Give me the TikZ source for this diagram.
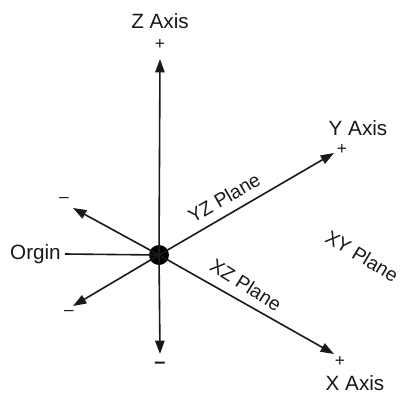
\documentclass[tikz,border=0pt]{standalone}
\usepackage{fontspec}
\setmainfont{Liberation Sans}
\usetikzlibrary{arrows.meta}
\begin{document}
\begin{tikzpicture}[x=0.75pt,y=-0.75pt,
  axis/.style={line width=1.2pt,draw=black!90,-{Triangle[length=10pt,width=7pt]}},
  lbl/.style={font=\fontsize{15.5}{16}\selectfont,text=black!90,inner sep=0pt},
  plane/.style={font=\fontsize{14.5}{16}\selectfont,text=black!90,inner sep=0pt},
  sgn/.style={font=\fontsize{13}{13}\selectfont,text=black!90,inner sep=0pt}]
\useasboundingbox (0,0) rectangle (400,396);
\fill[white] (0,0) rectangle (400,396);
% origin dot
\node[circle,fill=black,inner sep=0pt,minimum size=15pt] (O) at (159,255) {};
% axis end points
\coordinate (zp) at (160,59);
\coordinate (zm) at (160,354);
\coordinate (yp) at (334,153);
\coordinate (xp) at (334,354);
\coordinate (ul) at (73,208);
\coordinate (ll) at (73,306);
% axes
\draw[axis] (O.center) -- (zp);
\draw[axis] (O.center) -- (zm);
\draw[axis] (O.center) -- (yp);
\draw[axis] (O.center) -- (xp);
\draw[axis] (O.center) -- (ul);
\draw[axis] (O.center) -- (ll);
% origin label
\node[lbl,anchor=east] (orgin) at (61,254) {Orgin};
\draw[line width=1.2pt,draw=black!90] (orgin.east) ++(4,0) -- (O.center);
% axis labels
\node[lbl] (zlab) at (160,21) {Z Axis};
\node[sgn] (zplus) at (160,44) {+};
\node[lbl] (ylab) at (358,128) {Y Axis};
\node[sgn] (yplus) at (342,149) {+};
\node[lbl] (xlab) at (355,383) {X Axis};
\node[sgn] (xplus) at (340,361) {+};
\node[sgn] (ulm) at (64,200) {\textendash};
\node[sgn] (llm) at (69,313) {\textendash};
\node[font=\fontsize{15}{15}\bfseries,text=black!90,inner sep=0pt] (zmm) at (160,365) {\textendash};
% plane labels
\node[plane,rotate=30] (yz) at (224,198) {YZ Plane};
\node[plane,rotate=-32] (xz) at (246,285) {XZ Plane};
\node[plane,rotate=-31] (xy) at (362,256) {XY Plane};
\end{tikzpicture}
\end{document}
